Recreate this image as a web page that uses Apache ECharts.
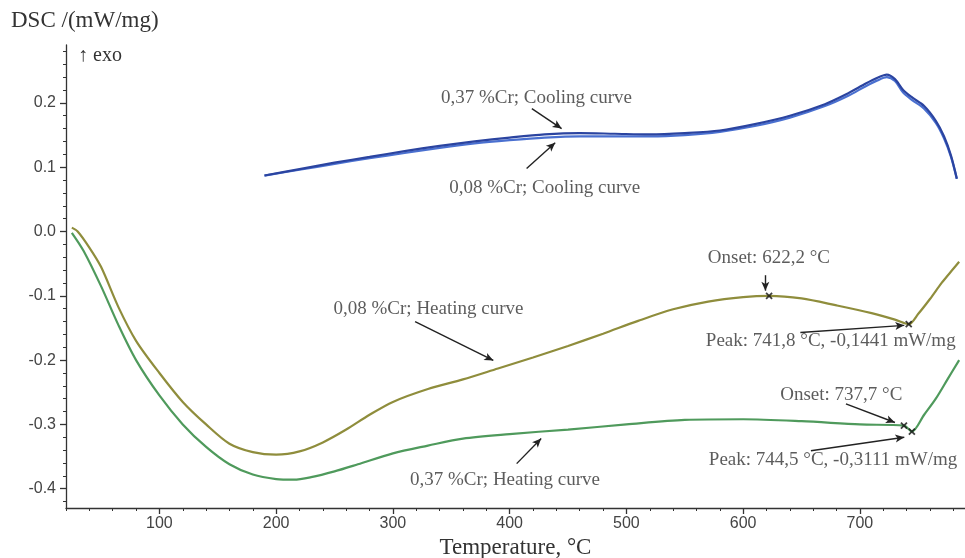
<!DOCTYPE html>
<html>
<head>
<meta charset="utf-8">
<script src="https://cdn.jsdelivr.net/npm/echarts@6/dist/echarts.min.js"></script>
<style>html,body{margin:0;padding:0;background:#fff;}#c{width:965px;height:558px;}</style>
</head>
<body>
<div id="c"></div>
<script>
// ---- data ----
const coolT = [190, 220, 250, 280, 310, 340, 370, 400, 430, 460, 490, 520, 550, 580, 610, 640, 670, 690, 705, 715, 723, 730, 737, 745, 755, 765, 772, 778, 783];
const cool037 = [0.087, 0.097, 0.107, 0.116, 0.125, 0.133, 0.140, 0.146, 0.151, 0.153, 0.152, 0.151, 0.153, 0.157, 0.167, 0.180, 0.198, 0.215, 0.230, 0.239, 0.244, 0.237, 0.220, 0.208, 0.195, 0.172, 0.148, 0.118, 0.082];
const cool008 = [0.087, 0.096, 0.105, 0.114, 0.122, 0.130, 0.137, 0.142, 0.146, 0.148, 0.148, 0.148, 0.150, 0.155, 0.164, 0.177, 0.195, 0.211, 0.226, 0.235, 0.240, 0.234, 0.216, 0.204, 0.191, 0.169, 0.145, 0.116, 0.082];

const heatT008 = [25, 30, 40, 50, 65, 80, 100, 120, 140, 160, 180, 200, 220, 240, 260, 280, 300, 330, 360, 390, 420, 450, 480, 510, 540, 570, 600, 622.2, 650, 680, 710, 730, 741.8, 750, 760, 770, 780, 785];
const heat008 = [0.006, 0.0, -0.025, -0.055, -0.118, -0.17, -0.22, -0.265, -0.30, -0.33, -0.343, -0.347, -0.342, -0.328, -0.308, -0.285, -0.265, -0.245, -0.23, -0.213, -0.196, -0.178, -0.159, -0.139, -0.121, -0.109, -0.102, -0.100, -0.104, -0.115, -0.127, -0.137, -0.1441, -0.128, -0.105, -0.080, -0.058, -0.047];

const heatT037 = [25, 35, 50, 65, 80, 100, 120, 140, 160, 180, 200, 215, 230, 250, 270, 300, 330, 360, 400, 450, 500, 550, 600, 650, 700, 737.7, 744.5, 755, 765, 775, 785];
const heat037 = [-0.002, -0.03, -0.085, -0.146, -0.20, -0.255, -0.30, -0.335, -0.362, -0.378, -0.385, -0.386, -0.382, -0.373, -0.362, -0.345, -0.333, -0.322, -0.315, -0.308, -0.300, -0.293, -0.292, -0.295, -0.300, -0.302, -0.3111, -0.285, -0.260, -0.230, -0.200];

const markPts = [[622.2, -0.100], [741.8, -0.1441], [737.7, -0.302], [744.5, -0.3111]];

const xMajor = [100, 200, 300, 400, 500, 600, 700];
const yMajor = [-0.4, -0.3, -0.2, -0.1, 0.0, 0.1, 0.2];

const notes = [
  [423, 0.208, '0,37 %Cr; Cooling curve'],
  [430, 0.068, '0,08 %Cr; Cooling curve'],
  [330.5, -0.120, '0,08 %Cr; Heating curve'],
  [396, -0.387, '0,37 %Cr; Heating curve'],
  [622, -0.042, 'Onset: 622,2 °C'],
  [675, -0.170, 'Peak: 741,8 °C, -0,1441 mW/mg'],
  [684, -0.255, 'Onset: 737,7 °C'],
  [677, -0.356, 'Peak: 744,5 °C, -0,3111 mW/mg']
];
const arrows = [
  [[419, 0.191], [444.5, 0.160]],
  [[414.5, 0.098], [439, 0.138]],
  [[319, -0.140], [386, -0.2006]],
  [[406, -0.361], [427, -0.322]],
  [[619, -0.068], [619, -0.092]],
  [[649, -0.157], [738, -0.146]],
  [[688, -0.268], [730, -0.297]],
  [[658, -0.341], [738, -0.320]]
];

// ---- chart ----
const zip = (a, b) => a.map((t, i) => [t, b[i]]);
const xMinor = []; for (let t = 20; t <= 790; t += 20) xMinor.push(t);
const yMinor = []; for (let k = -21; k <= 14; k++) yMinor.push(+(k * 0.02).toFixed(2));
const fmtY = v => (Math.abs(v) < 1e-9 ? '0.0' : v.toFixed(1));
const serif = '"Liberation Serif", "DejaVu Serif", serif';
const sans = '"Liberation Sans", Arial, sans-serif';

const chart = echarts.init(document.getElementById('c'), null, {renderer: 'canvas'});
const axLine = {show: true, lineStyle: {color: '#333', width: 1.3}};
const curve = (name, data, color) => ({name, type: 'line', data, showSymbol: false, smooth: 0.3, lineStyle: {color, width: 2.2}});
chart.setOption({
  animation: false,
  backgroundColor: '#fff',
  title: {text: 'DSC /(mW/mg)', left: 6, top: 4, textStyle: {fontFamily: serif, fontSize: 23, fontWeight: 'normal', color: '#333'}},
  graphic: [{type: 'text', left: 78, top: 46, style: {text: '↑ exo', font: '20px ' + serif, fill: '#333'}}],
  grid: {left: 66, right: 0, top: 45, bottom: 50, containLabel: false, outerBoundsMode: 'none'},
  xAxis: [{
    type: 'value', min: 20, max: 790, position: 'bottom',
    axisLine: {...axLine, onZero: false},
    splitLine: {show: false},
    axisTick: {show: true, customValues: xMajor, length: 6, inside: false, lineStyle: {color: '#333', width: 1.3}},
    axisLabel: {customValues: xMajor, margin: 8, fontFamily: sans, fontSize: 16, color: '#444'},
    name: 'Temperature, °C', nameLocation: 'middle', nameGap: 26,
    nameTextStyle: {fontFamily: serif, fontSize: 23, color: '#333'}
  }, {
    type: 'value', min: 20, max: 790, position: 'bottom', offset: 0,
    axisLine: {show: false, onZero: false}, splitLine: {show: false},
    axisTick: {show: true, customValues: xMinor, length: 3, lineStyle: {color: '#333', width: 1}},
    axisLabel: {show: false}
  }],
  yAxis: [{
    type: 'value', min: -0.43, max: 0.29, position: 'left',
    axisLine: {...axLine, onZero: false}, splitLine: {show: false},
    axisTick: {show: true, customValues: yMajor, length: 6, lineStyle: {color: '#333', width: 1.3}},
    axisLabel: {customValues: yMajor, formatter: fmtY, margin: 10, fontFamily: sans, fontSize: 16, color: '#444'}
  }, {
    type: 'value', min: -0.43, max: 0.29, position: 'left', offset: 0,
    axisLine: {show: false, onZero: false}, splitLine: {show: false},
    axisTick: {show: true, customValues: yMinor, length: 3, lineStyle: {color: '#333', width: 1}},
    axisLabel: {show: false}
  }],
  series: [
    curve('0,08 %Cr; Cooling curve', zip(coolT, cool008), '#4a70d0'),
    curve('0,37 %Cr; Cooling curve', zip(coolT, cool037), '#2b44a0'),
    curve('0,08 %Cr; Heating curve', zip(heatT008, heat008), '#8f8d3c'),
    curve('0,37 %Cr; Heating curve', zip(heatT037, heat037), '#4f9a5c'),
    {name: 'marks', type: 'scatter', data: markPts, symbol: 'path://M0,0L10,10M10,0L0,10', symbolSize: 6,
      itemStyle: {color: 'none', borderColor: '#111', borderWidth: 1.8}, z: 5},
    {name: 'notes', type: 'scatter', data: notes, symbolSize: 0, z: 6,
      label: {show: true, position: 'inside', formatter: p => p.data[2], fontFamily: serif, fontSize: 19, color: '#333'}},
    {name: 'arrows', type: 'line', data: [], z: 6,
      markLine: {silent: true, symbol: ['none', 'arrow'], symbolSize: [6, 9], label: {show: false},
        lineStyle: {color: '#222', width: 1.4, type: 'solid'},
        data: arrows.map(a => [{coord: a[0]}, {coord: a[1]}])}}
  ]
});
</script>
</body>
</html>
